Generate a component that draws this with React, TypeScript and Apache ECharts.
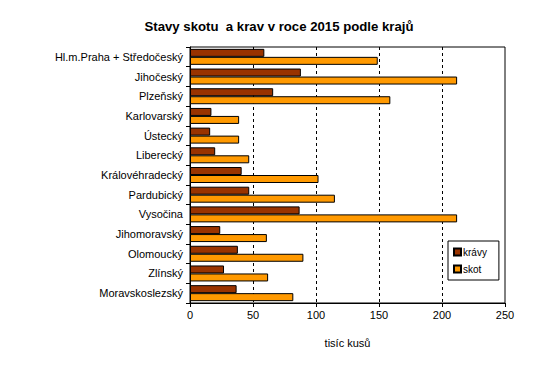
import React, { useEffect, useRef } from "react";
import * as echarts from "echarts";

const categories = [
  "Hl.m.Praha + Středočeský",
  "Jihočeský",
  "Plzeňský",
  "Karlovarský",
  "Ústecký",
  "Liberecký",
  "Královéhradecký",
  "Pardubický",
  "Vysočina",
  "Jihomoravský",
  "Olomoucký",
  "Zlínský",
  "Moravskoslezský",
];
const kravy = [59, 88, 66, 17, 16, 20, 41, 47, 87, 24, 38, 27, 37];
const skot = [149, 212, 159, 39, 39, 47, 102, 115, 212, 61, 90, 62, 82];
const xTicks = [0, 50, 100, 150, 200, 250];

const FONT = "'Liberation Sans', Arial, sans-serif";

export default function App() {
  const ref = useRef<HTMLDivElement>(null);
  useEffect(() => {
    const chart = echarts.init(ref.current!, null, { renderer: "svg" });
    chart.setOption({
      animation: false,
      backgroundColor: "#ffffff",
      textStyle: { fontFamily: FONT },
      title: {
        text: "Stavy skotu  a krav v roce 2015 podle krajů",
        left: 274,
        top: 15,
        textAlign: "center",
        textStyle: { fontFamily: FONT, fontSize: 13.2, fontWeight: "bold", color: "#000" },
      },
      legend: {
        orient: "vertical",
        left: 448,
        top: 241,
        width: 49,
        padding: [6, 12, 6, 5],
        itemGap: 7,
        itemWidth: 7,
        itemHeight: 7,
        icon: "rect",
        borderColor: "#000",
        borderWidth: 1,
        textStyle: { fontFamily: FONT, fontSize: 10, color: "#000", padding: [0, 0, 0, -3] },
        data: ["krávy", "skot"],
      },
      grid: {
        left: 190,
        right: 29,
        top: 47,
        bottom: 70,
        show: true,
        borderColor: "#000",
        borderWidth: 1,
        backgroundColor: "transparent",
      },
      xAxis: {
        type: "value",
        min: 0,
        max: 250,
        interval: 50,
        name: "tisíc kusů",
        nameLocation: "middle",
        nameGap: 34,
        nameTextStyle: { fontFamily: FONT, fontSize: 11, color: "#000" },
        axisLine: { show: true, lineStyle: { color: "#000", width: 1 } },
        axisTick: { show: true, length: 4, lineStyle: { color: "#000" } },
        axisLabel: {
          fontFamily: FONT,
          fontSize: 11,
          color: "#000",
          margin: 6,
          formatter: (v: number) => (xTicks.includes(v) ? String(v) : ""),
        },
        splitLine: {
          show: true,
          showMinLine: false,
          showMaxLine: false,
          lineStyle: { color: "#000", type: [3, 3], width: 1 },
        },
      },
      yAxis: {
        type: "category",
        data: categories,
        inverse: true,
        axisLine: { show: true, lineStyle: { color: "#000", width: 1 } },
        axisTick: { show: true, length: 4, lineStyle: { color: "#000" } },
        axisLabel: { fontFamily: FONT, fontSize: 11, color: "#000", margin: 7 },
        splitLine: { show: false },
      },
      series: [
        {
          name: "krávy",
          type: "bar",
          data: kravy,
          barWidth: 8,
          barGap: "0%",
          itemStyle: { color: "#993300", borderColor: "#000", borderWidth: 1 },
        },
        {
          name: "skot",
          type: "bar",
          data: skot,
          barWidth: 8,
          barGap: "0%",
          itemStyle: { color: "#FF9900", borderColor: "#000", borderWidth: 1 },
        },
      ],
    });
    return () => chart.dispose();
  }, []);
  return <div ref={ref} style={{ width: 534, height: 373, margin: -8 }} />;
}
